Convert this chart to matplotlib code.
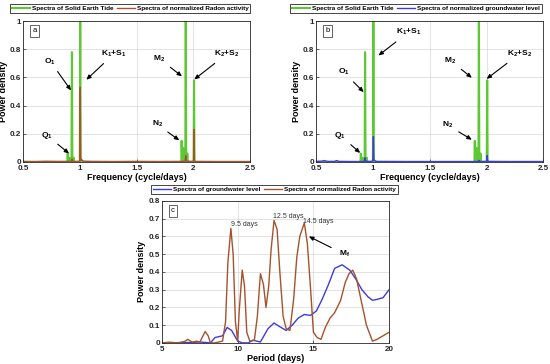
import matplotlib
matplotlib.use("Agg")
import matplotlib.pyplot as plt

plt.rcParams['font.family'] = ['Liberation Sans', 'DejaVu Sans']
plt.rcParams['mathtext.fontset'] = 'custom'
plt.rcParams['mathtext.rm'] = 'Liberation Sans'
plt.rcParams['mathtext.bf'] = 'Liberation Sans:bold'
plt.rcParams['mathtext.default'] = 'bf'

# ---------------- data ----------------
# Solid Earth Tide spectrum (frequency in cycle/day)
tide_f = [0.50, 0.880, 0.889, 0.893, 0.897, 0.903, 0.907, 0.911, 0.922, 0.926, 0.930, 0.934,
          0.940, 0.945, 0.950, 0.960, 0.994, 0.999, 1.003, 1.007, 1.012, 1.030, 1.870,
          1.889, 1.893, 1.896, 1.900, 1.905, 1.910, 1.915, 1.924, 1.928, 1.932, 1.936, 1.941,
          1.946, 1.951, 1.960, 1.996, 2.001, 2.005, 2.009, 2.014, 2.50]
tide_p = [0.0, 0.0, 0.0, 0.06, 0.0, 0.0, 0.03, 0.0, 0.0, 0.0, 0.78, 0.0,
          0.0, 0.03, 0.0, 0.0, 0.0, 0.0, 1.0, 0.0, 0.01, 0.0, 0.0,
          0.0, 0.0, 0.15, 0.0, 0.0, 0.10, 0.0, 0.0, 0.0, 1.0, 0.0, 0.0,
          0.06, 0.0, 0.0, 0.0, 0.0, 0.58, 0.0, 0.0, 0.0]

# Radon activity spectrum (panel a)
radon_f = [0.50, 0.60, 0.70, 0.80, 0.900, 0.925, 0.930, 0.935, 0.960, 0.995, 0.999, 1.003,
           1.007, 1.011, 1.030, 1.100, 1.300, 1.500, 1.700, 1.900, 1.927, 1.932, 1.937,
           1.996, 2.001, 2.005, 2.009, 2.014, 2.200, 2.50]
radon_p = [0.004, 0.003, 0.005, 0.004, 0.004, 0.005, 0.02, 0.005, 0.004, 0.005, 0.01, 0.53,
           0.01, 0.02, 0.006, 0.004, 0.003, 0.004, 0.003, 0.004, 0.006, 0.045, 0.006,
           0.004, 0.008, 0.23, 0.008, 0.004, 0.003, 0.003]

# Groundwater level spectrum (panel b)
gw_f = [0.50, 0.55, 0.57, 0.60, 0.66, 0.68, 0.70, 0.80, 0.900, 0.925, 0.930, 0.935, 0.960,
        0.995, 0.999, 1.003, 1.007, 1.011, 1.030, 1.300, 1.500, 1.900, 1.927, 1.932, 1.937,
        1.996, 2.001, 2.005, 2.009, 2.014, 2.200, 2.50]
gw_p = [0.004, 0.006, 0.01, 0.004, 0.004, 0.01, 0.004, 0.003, 0.003, 0.005, 0.03, 0.005, 0.004,
        0.005, 0.02, 0.18, 0.02, 0.01, 0.004, 0.003, 0.003, 0.003, 0.004, 0.012, 0.004,
        0.004, 0.008, 0.045, 0.008, 0.004, 0.003, 0.003]

# Panel c (period in days)
rad_T = [5.0, 5.5, 6.0, 6.5, 6.7, 7.0, 7.3, 7.5, 7.85, 8.05, 8.2, 8.5, 9.0, 9.2, 9.35, 9.55,
         9.7, 9.85, 10.0, 10.1, 10.3, 10.45, 10.6, 10.8, 11.1, 11.3, 11.5, 11.7, 11.87, 12.05,
         12.2, 12.4, 12.6, 12.8, 13.0, 13.2, 13.45, 13.7, 13.9, 14.1, 14.4, 14.6, 14.8, 15.0,
         15.25, 15.5, 15.8, 16.1, 16.4, 16.8, 17.1, 17.35, 17.6, 17.85, 18.2, 18.5, 18.9,
         19.2, 19.6, 20.0]
rad_P = [0.0, 0.004, 0.0, 0.008, 0.02, 0.004, 0.01, 0.004, 0.064, 0.04, 0.0, 0.0, 0.01, 0.12,
         0.45, 0.645, 0.5, 0.12, 0.01, 0.18, 0.41, 0.32, 0.06, 0.01, 0.015, 0.15, 0.39, 0.33,
         0.20, 0.32, 0.52, 0.69, 0.64, 0.38, 0.15, 0.08, 0.07, 0.25, 0.48, 0.60, 0.676, 0.56,
         0.32, 0.06, 0.03, 0.02, 0.09, 0.14, 0.17, 0.24, 0.34, 0.39, 0.41, 0.36, 0.22, 0.10,
         0.01, 0.02, 0.04, 0.06]
gw_T = [5.0, 6.0, 7.0, 7.5, 8.2, 8.5, 9.0, 9.3, 9.6, 10.0, 10.3, 10.7, 11.0, 11.5, 12.0,
        12.4, 12.8, 13.2, 13.6, 14.0, 14.4, 14.8, 15.2, 15.6, 16.0, 16.4, 16.9, 17.4, 17.8,
        18.2, 18.6, 18.9, 19.2, 19.6, 20.0]
gw_P = [0.0, 0.0, 0.003, 0.005, 0.0, 0.03, 0.04, 0.087, 0.07, 0.01, 0.0, 0.0, 0.015, 0.005,
        0.08, 0.112, 0.09, 0.07, 0.10, 0.14, 0.16, 0.155, 0.18, 0.25, 0.33, 0.42, 0.44, 0.41,
        0.36, 0.30, 0.26, 0.24, 0.245, 0.255, 0.30]

freq_ticks = [0.5, 1, 1.5, 2, 2.5]
power_ticks = [0, 0.2, 0.4, 0.6, 0.8, 1]
period_ticks = [5, 10, 15, 20]
power_ticks_c = [0, 0.1, 0.2, 0.3, 0.4, 0.5, 0.6, 0.7, 0.8]

GREEN = '#5cc832'
BROWN = '#a5522d'
BLUE = '#3c3cdc'

fig = plt.figure(figsize=(5.5, 3.64), dpi=100)
ax_a = fig.add_axes([0.042, 0.555, 0.413, 0.387])
ax_b = fig.add_axes([0.575, 0.555, 0.413, 0.387])
ax_c = fig.add_axes([0.2945, 0.058, 0.413, 0.39])

def style(ax, xt, yt, xl, yl, xlabel):
    ax.set_xlim(*xl)
    ax.set_ylim(*yl)
    ax.set_xticks(xt)
    ax.set_yticks(yt)
    ax.set_xticklabels([('%g' % v) for v in xt])
    ax.set_yticklabels([('%g' % v) for v in yt])
    ax.tick_params(direction='in', length=2.5, width=0.5, labelsize=5.8,
                   colors='#262626', top=False, right=False)
    ax.tick_params(axis='x', pad=2.5)
    ax.tick_params(axis='y', pad=1.5)
    for lab in ax.get_xticklabels() + ax.get_yticklabels():
        lab.set_fontweight('bold')
    for s in ax.spines.values():
        s.set_color('#262626')
        s.set_linewidth(0.6)
    ax.grid(True, color='#d8d8d8', linewidth=0.5)
    ax.set_axisbelow(True)
    ax.set_xlabel(xlabel, fontsize=6.5, fontweight='bold', labelpad=0.5)
    ax.set_ylabel('Power density', fontsize=6.5, fontweight='bold', labelpad=1.5)

def panel_label(ax, txt):
    ax.text(0.04, 0.93, txt, transform=ax.transAxes, fontsize=5.5, ha='left', va='center',
            bbox=dict(boxstyle='square,pad=0.3', fc='white', ec='#262626', lw=0.5))

def legend(ax, x, y):
    leg = ax.legend(loc='lower center', bbox_to_anchor=(x, y), ncol=2, fontsize=4.6,
                    frameon=True, fancybox=False, framealpha=1, edgecolor='#262626',
                    borderpad=0.3, handlelength=2.8, handletextpad=0.3, columnspacing=0.6,
                    borderaxespad=0)
    leg.get_frame().set_linewidth(0.6)
    for t in leg.get_texts():
        t.set_fontweight('bold')

def arrow(ax, text, xy, xytext, fs=6):
    ax.annotate(text, xy=xy, xytext=xytext, fontsize=fs, fontweight='bold', ha='center',
                va='center',
                arrowprops=dict(arrowstyle='-|>,head_length=0.45,head_width=0.2', color='black',
                                lw=0.8, shrinkA=2, shrinkB=0))

# panel a
ax_a.plot(tide_f, tide_p, color=GREEN, lw=1.5, label='Spectra of Solid Earth Tide')
ax_a.plot(radon_f, radon_p, color=BROWN, lw=1.0, label='Spectra of normalized Radon activity')
style(ax_a, freq_ticks, power_ticks, (0.5, 2.5), (0, 1), 'Frequency (cycle/days)')
panel_label(ax_a, 'a')
legend(ax_a, 0.471, 1.057)
arrow(ax_a, r'O$_1$', (0.922, 0.508), (0.74, 0.714))
arrow(ax_a, r'K$_1$+S$_1$', (1.057, 0.584), (1.30, 0.768))
arrow(ax_a, r'Q$_1$', (0.905, 0.06), (0.71, 0.189))
arrow(ax_a, r'M$_2$', (1.899, 0.608), (1.70, 0.733))
arrow(ax_a, r'K$_2$+S$_2$', (2.007, 0.586), (2.295, 0.768))
arrow(ax_a, r'N$_2$', (1.875, 0.154), (1.68, 0.267))

# panel b
ax_b.plot(tide_f, tide_p, color=GREEN, lw=1.5, label='Spectra of Solid Earth Tide')
ax_b.plot(gw_f, gw_p, color=BLUE, lw=1.0, label='Spectra of normalized groundwater level')
style(ax_b, freq_ticks, power_ticks, (0.5, 2.5), (0, 1), 'Frequency (cycle/days)')
panel_label(ax_b, 'b')
legend(ax_b, 0.438, 1.057)
arrow(ax_b, r'O$_1$', (0.918, 0.496), (0.74, 0.638))
arrow(ax_b, r'K$_1$+S$_1$', (1.048, 0.756), (1.31, 0.92))
arrow(ax_b, r'Q$_1$', (0.887, 0.064), (0.71, 0.19))
arrow(ax_b, r'M$_2$', (1.87, 0.598), (1.68, 0.72))
arrow(ax_b, r'K$_2$+S$_2$', (2.0, 0.59), (2.29, 0.768))
arrow(ax_b, r'N$_2$', (1.87, 0.158), (1.66, 0.26))

# panel c
ax_c.plot(gw_T, gw_P, color=BLUE, lw=1.0, label='Spectra of groundwater level')
ax_c.plot(rad_T, rad_P, color=BROWN, lw=1.0, label='Spectra of normalized Radon activity')
style(ax_c, period_ticks, power_ticks_c, (5, 20), (0, 0.8), 'Period (days)')
panel_label(ax_c, 'c')
legend(ax_c, 0.496, 1.049)
ax_c.text(9.55, 0.645, '9.5 days', fontsize=5, ha='left', va='bottom', color='#333333')
ax_c.text(12.35, 0.695, '12.5 days', fontsize=5, ha='left', va='bottom', color='#333333')
ax_c.text(14.3, 0.665, '14.5 days', fontsize=5, ha='left', va='bottom', color='#333333')
ax_c.annotate(r'M$_\mathbf{f}$', xy=(14.7, 0.60), xytext=(17.05, 0.5), fontsize=6,
              fontweight='bold', ha='center', va='center',
              arrowprops=dict(arrowstyle='-|>,head_length=0.45,head_width=0.2', color='black',
                              lw=0.8, shrinkA=4, shrinkB=0))

fig.savefig('out.png', dpi=100)
